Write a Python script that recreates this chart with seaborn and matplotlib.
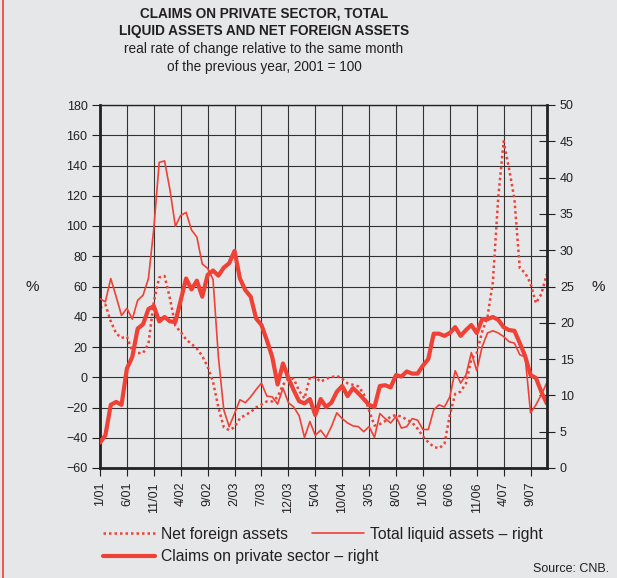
import numpy as np
import pandas as pd
import matplotlib
matplotlib.use('Agg')
import matplotlib.pyplot as plt
import seaborn as sns
from matplotlib.lines import Line2D

# monthly data, 1/01 .. 12/07
months = list(range(84))
tick_pos = list(range(0, 84, 5))
tick_labels = ['1/01', '6/01', '11/01', '4/02', '9/02', '2/03', '7/03', '12/03', '5/04',
               '10/04', '3/05', '8/05', '1/06', '6/06', '11/06', '4/07', '9/07']

# net foreign assets (left axis)
net_foreign = [46, 48, 37, 29, 26, 27, 17, 16, 16, 22,
               50, 66, 67, 52, 34, 30, 25, 22, 19, 14,
               7, -3, -20, -33, -35, -33, -27, -25, -23, -20,
               -18, -16, -16, -13, -5, -1, -1, -9, -14, 0,
               0, -3, -1, 0, 1, -1, -4, -5, -6, -11,
               -22, -32, -31, -29, -26, -25, -26, -28, -30, -34,
               -39, -43, -46, -47, -44, -25, -11, -9.5, -4, 12,
               16, 30, 40, 63, 119, 156, 138, 118, 72, 69,
               62, 49, 55, 68]

# total liquid assets (right axis)
liquid = [23.3, 22.9, 26.1, 23.6, 21.0, 22.0, 20.5, 23.1, 23.8, 26.1,
          33.0, 42.1, 42.3, 38.3, 33.3, 34.8, 35.2, 32.8, 31.8, 28.1,
          27.5, 26.0, 15.3, 8.0, 5.7, 7.5, 9.4, 9.0, 9.8, 10.8,
          11.7, 9.9, 9.8, 8.8, 11.0, 9.0, 8.4, 7.2, 4.2, 6.4,
          4.5, 5.2, 4.2, 5.7, 7.6, 6.8, 6.2, 5.8, 5.7, 5.0,
          5.7, 4.2, 7.5, 6.8, 6.2, 7.1, 5.5, 5.7, 6.8, 6.6,
          5.3, 5.3, 8.0, 8.7, 8.4, 9.8, 13.4, 11.7, 12.8, 15.9,
          13.4, 16.7, 18.6, 18.9, 18.6, 18.1, 17.4, 17.2, 15.6, 15.3,
          7.6, 8.7, 10.1, 11.7]

# claims on private sector (right axis)
claims = [3.5, 4.5, 8.7, 9.1, 8.7, 13.7, 15.3, 19.2, 19.8, 21.9,
          22.3, 20.2, 20.8, 20.2, 20.1, 23.1, 26.1, 24.6, 25.8, 23.6,
          26.6, 27.2, 26.5, 27.6, 28.2, 29.9, 26.1, 24.5, 23.6, 20.6,
          19.7, 17.6, 15.3, 11.5, 14.4, 12.4, 10.7, 9.2, 8.9, 9.5,
          7.3, 9.5, 8.4, 9.0, 10.5, 11.3, 9.9, 11.0, 10.3, 9.5,
          8.7, 8.4, 11.3, 11.4, 11.1, 12.8, 12.6, 13.3, 13.0, 13.0,
          14.1, 15.0, 18.5, 18.5, 18.2, 18.6, 19.4, 18.2, 19.0, 19.7,
          18.6, 20.5, 20.5, 20.8, 20.4, 19.4, 19.0, 18.9, 17.2, 15.4,
          12.8, 12.4, 10.5, 8.9]

df = pd.DataFrame({'month': months, 'nfa': net_foreign, 'tla': liquid, 'cps': claims})

bg = '#e6e7e9'
red = '#ef4136'
txt = '#231f20'
dots = (0, (1, 1.2))

sns.set_theme(style='ticks')
plt.rcParams['font.family'] = ['Liberation Sans', 'DejaVu Sans']

fig = plt.figure(figsize=(6.17, 5.78), dpi=100, facecolor=bg)
ax = fig.add_axes([100 / 617, 1 - 468 / 578, 446.7 / 617, 363 / 578])
ax.set_facecolor(bg)
ax.set_axisbelow(True)

sns.lineplot(data=df, x='month', y='nfa', ax=ax, color=red, lw=1.8, ls=dots)
ax2 = ax.twinx()
sns.lineplot(data=df, x='month', y='tla', ax=ax2, color=red, lw=1.2)
sns.lineplot(data=df, x='month', y='cps', ax=ax2, color=red, lw=3)

ax.set_xlim(0, 83)
ax.set_ylim(-60, 180)
ax.set_yticks(range(-60, 181, 20))
ax2.set_ylim(0, 50)
ax2.set_yticks(range(0, 51, 5))
ax.set_xticks(tick_pos, tick_labels, rotation=90)
for a in (ax, ax2):
    a.set_xlabel('')
    a.set_ylabel('')
ax.grid(True, color='#333333', lw=0.8)

ax.tick_params(axis='y', direction='out', length=6, width=0.8, pad=3,
               labelsize=9, colors=txt)
ax.tick_params(axis='x', direction='out', length=6, width=0.8, pad=4,
               labelsize=9, colors=txt)
ax2.tick_params(axis='y', direction='inout', length=11, width=0.8, pad=4,
                labelsize=9, colors=txt)

for s in ['left', 'bottom']:
    ax.spines[s].set_linewidth(2)
    ax.spines[s].set_color('#222222')
ax.spines['top'].set_linewidth(1)
ax.spines['top'].set_color('#222222')
ax.spines['right'].set_visible(False)
for s in ['left', 'bottom', 'top']:
    ax2.spines[s].set_visible(False)
ax2.spines['right'].set_linewidth(2)
ax2.spines['right'].set_color('#222222')

fig.text(32 / 617, 1 - 287 / 578, '%', fontsize=11, color=txt, ha='center', va='center')
fig.text(598 / 617, 1 - 287 / 578, '%', fontsize=11, color=txt, ha='center', va='center')

tx = 264 / 617
fig.text(tx, 1 - 14 / 578, 'CLAIMS ON PRIVATE SECTOR, TOTAL',
         fontsize=9.8, weight='bold', color=txt, ha='center', va='center')
fig.text(tx, 1 - 31 / 578, 'LIQUID ASSETS AND NET FOREIGN ASSETS',
         fontsize=9.8, weight='bold', color=txt, ha='center', va='center')
fig.text(tx, 1 - 49 / 578, 'real rate of change relative to the same month',
         fontsize=9.8, color=txt, ha='center', va='center')
fig.text(tx, 1 - 67 / 578, 'of the previous year, 2001 = 100',
         fontsize=9.8, color=txt, ha='center', va='center')

h_nfa = Line2D([], [], color=red, lw=1.8, ls=dots)
h_tla = Line2D([], [], color=red, lw=1.2)
h_cps = Line2D([], [], color=red, lw=3)
leg_kw = dict(frameon=False, fontsize=11.3, handlelength=3.3, handletextpad=0.4,
              borderpad=0, borderaxespad=0, labelcolor=txt, loc='center left')
fig.legend([h_nfa, h_tla], ['Net foreign assets', 'Total liquid assets – right'],
           ncol=2, columnspacing=1.55, bbox_to_anchor=(103 / 617, 1 - 534 / 578), **leg_kw)
fig.legend([h_cps], ['Claims on private sector – right'],
           bbox_to_anchor=(103 / 617, 1 - 557 / 578), **leg_kw)

fig.text(609 / 617, 1 - 569 / 578, 'Source: CNB.', fontsize=9, color=txt,
         ha='right', va='center')

fig.add_artist(Line2D([2.5 / 617, 2.5 / 617], [0, 1], color=red, lw=1.2))

fig.savefig('out.png', dpi=100, facecolor=bg)
